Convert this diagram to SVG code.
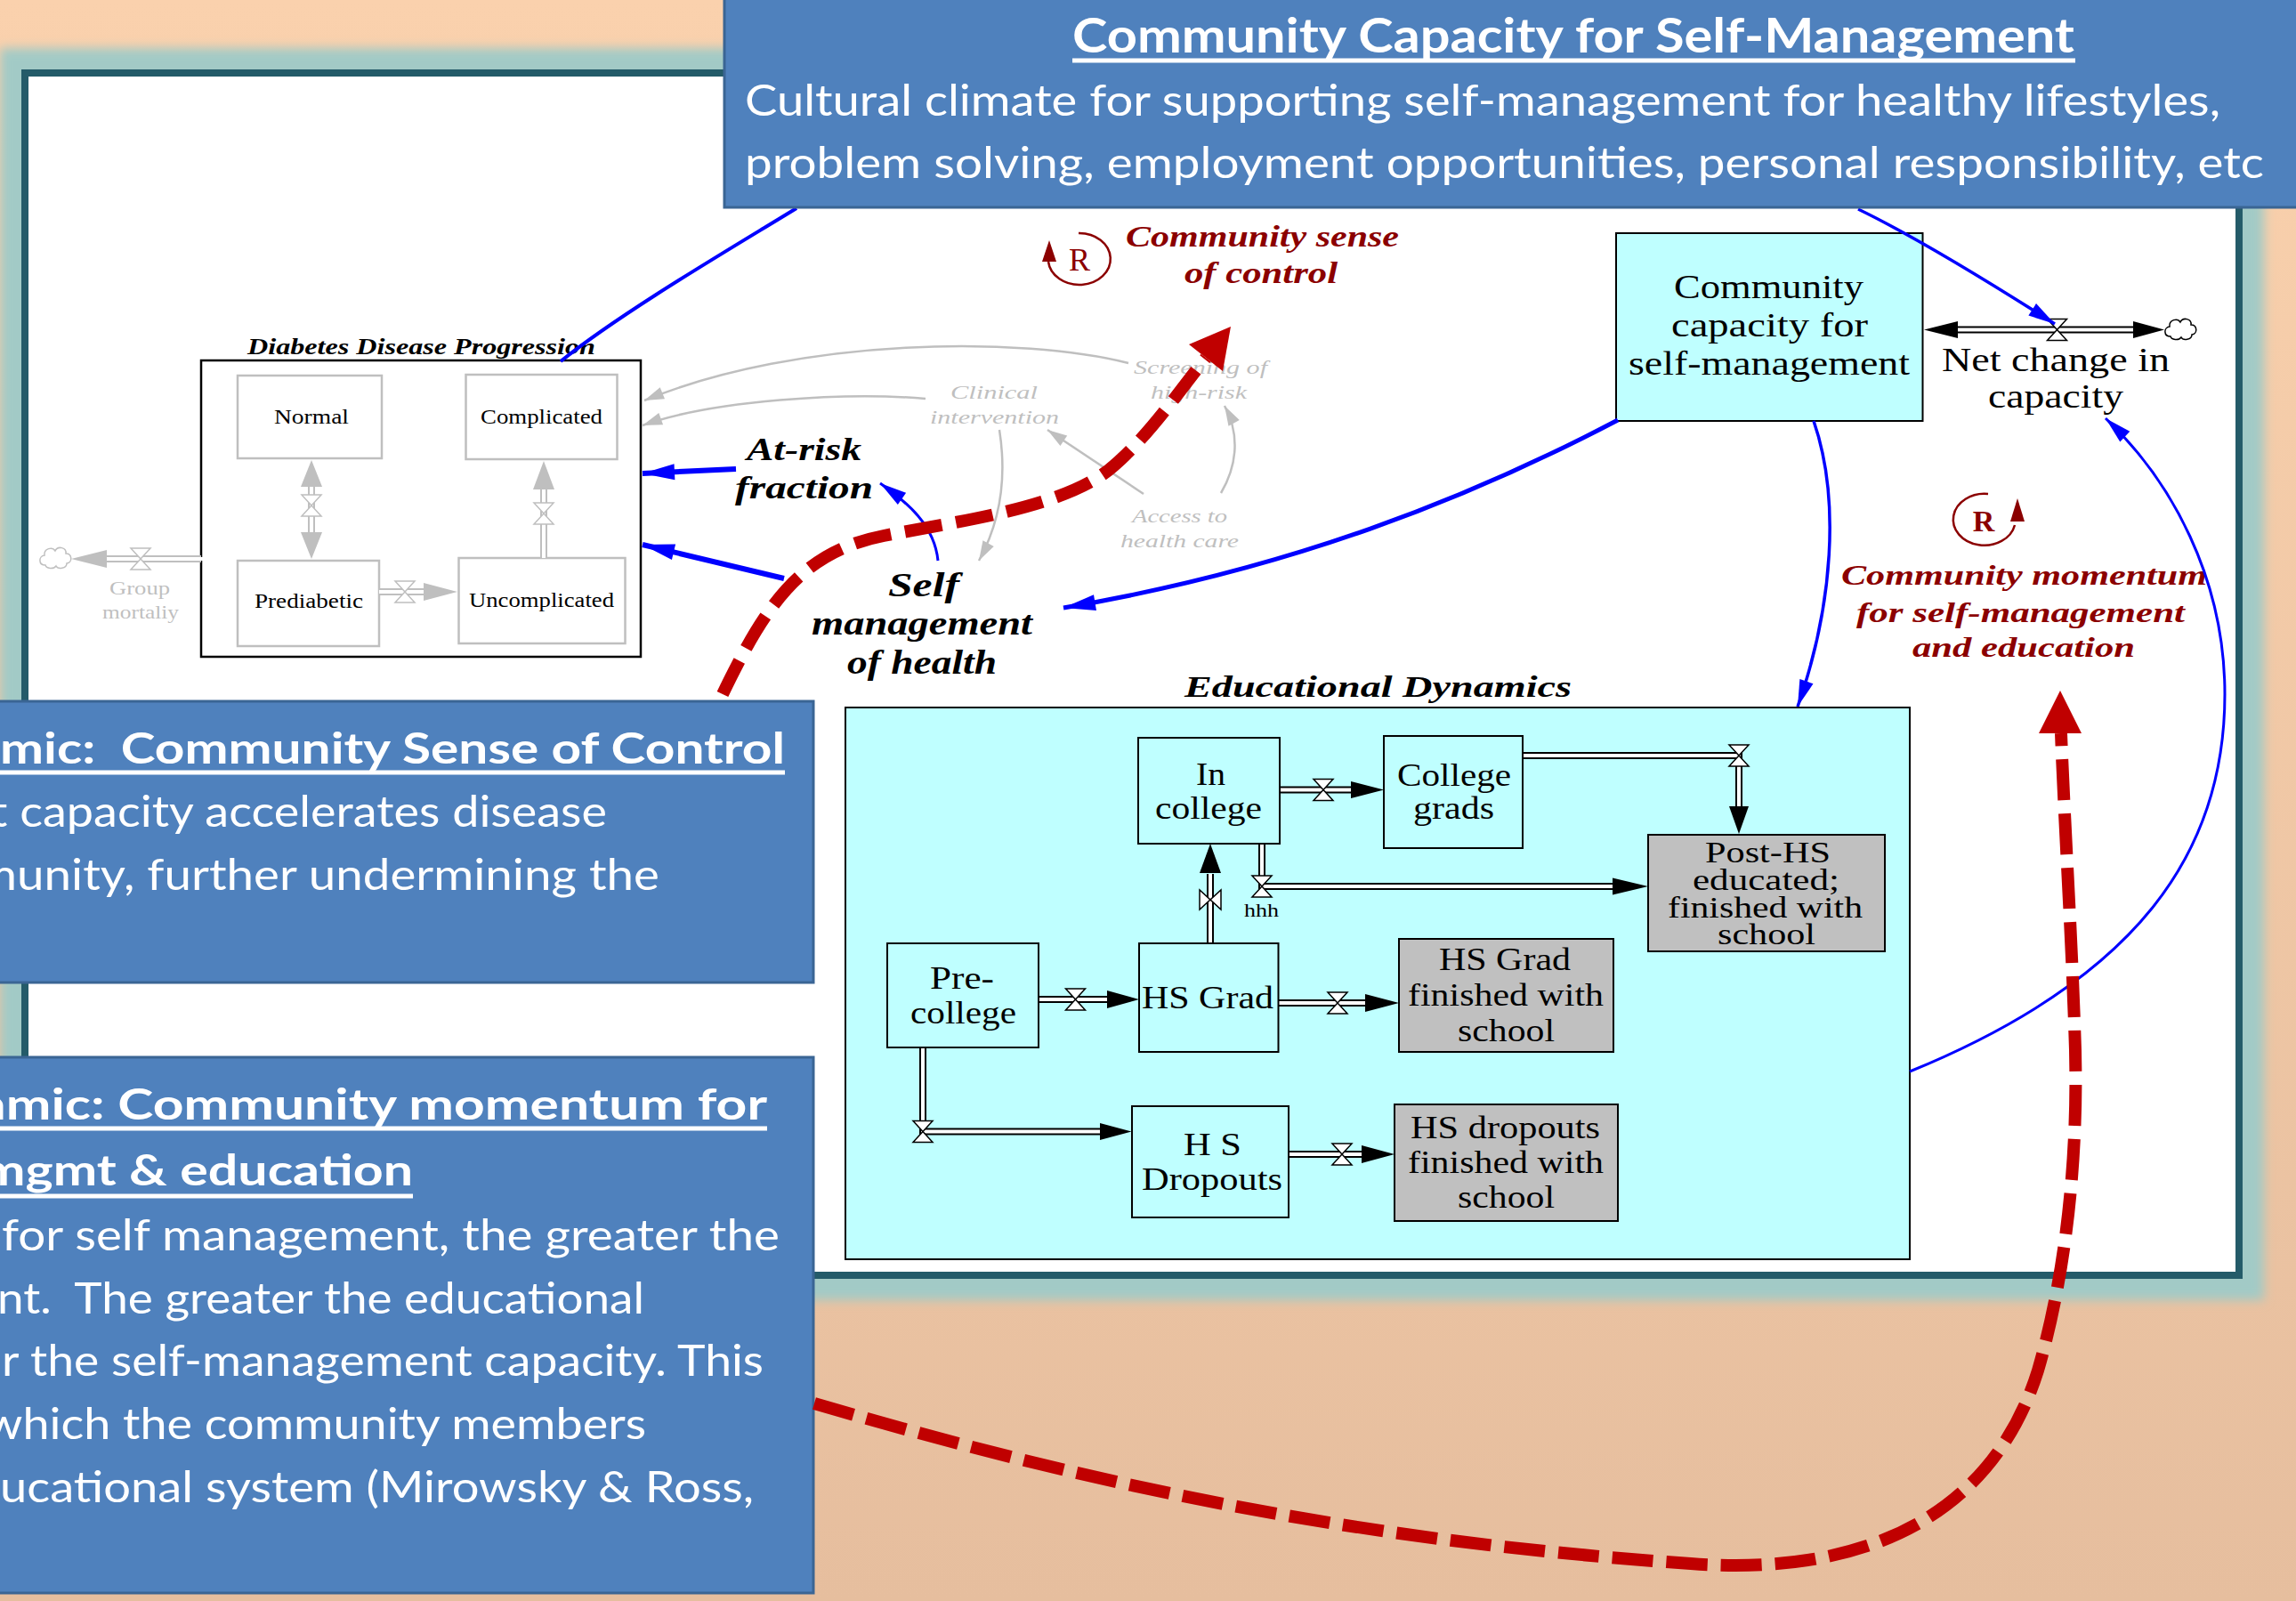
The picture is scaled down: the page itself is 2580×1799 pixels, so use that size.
<svg xmlns="http://www.w3.org/2000/svg" width="2580" height="1799" viewBox="0 0 2580 1799">
<defs>
  <linearGradient id="bg" x1="0" y1="0" x2="0" y2="1">
    <stop offset="0" stop-color="#FAD1AD"/>
    <stop offset="1" stop-color="#E6BE9E"/>
  </linearGradient>
  <filter id="soft" x="-10%" y="-10%" width="120%" height="120%">
    <feGaussianBlur stdDeviation="6"/>
  </filter>
  <marker id="ab" markerUnits="userSpaceOnUse" markerWidth="32" markerHeight="18" refX="30" refY="8" orient="auto" overflow="visible">
    <path d="M0,0 L30,8 L0,16 z" fill="#0000FF"/>
  </marker>
  <marker id="abL" markerUnits="userSpaceOnUse" markerWidth="38" markerHeight="20" refX="36" refY="9" orient="auto" overflow="visible">
    <path d="M0,0 L36,9 L0,18 z" fill="#0000FF"/>
  </marker>
  <marker id="ag" markerUnits="userSpaceOnUse" markerWidth="24" markerHeight="16" refX="22" refY="7" orient="auto" overflow="visible">
    <path d="M0,0 L22,7 L0,14 z" fill="#BFBFBF"/>
  </marker>
  <path id="valve" d="M-11,-12 L11,-12 L-11,12 L11,12 Z"/>
  <path id="cloud" d="M-12,8 C-20,8 -20,-2 -13,-3 C-14,-11 -4,-13 -1,-8 C2,-14 12,-12 11,-5 C18,-5 19,5 12,6 C12,12 2,13 0,9 C-3,13 -11,12 -12,8 Z"/>
  <style>
    .note rect { fill: #4F81BD; stroke: #3A6594; stroke-width: 3; }
    .nt { font-family: Lato, "Liberation Sans", sans-serif; fill: #FFFFFF; }
    .nh { font-weight: 700; font-size: 47px; }
    .nb { font-size: 49px; }
    .ul { stroke: #FFFFFF; stroke-width: 5; }
    .tnr { font-family: "Liberation Serif", "Times New Roman", serif; }
    .bi { font-weight: 700; font-style: italic; }
    .it { font-style: italic; }
    .gbox { fill: #FFFFFF; stroke: #BFBFBF; stroke-width: 2.5; }
    .stock { fill: #BFFFFF; stroke: #000000; stroke-width: 2; }
    .done { fill: #C0C0C0; stroke: #000000; stroke-width: 2; }
    .po { fill: none; stroke: #000000; stroke-width: 8; }
    .pi { fill: none; stroke: #FFFFFF; stroke-width: 4; }
    .gpo { fill: none; stroke: #BFBFBF; stroke-width: 8; }
    .valve { fill: #FFFFFF; stroke: #000000; stroke-width: 1.5; }
    .gvalve { fill: #FFFFFF; stroke: #BFBFBF; stroke-width: 1.5; }
    .gline { fill: none; stroke: #BFBFBF; stroke-width: 2.5; }
    .blue { fill: none; stroke: #0000FF; }
    .rd { fill: none; stroke: #C00000; stroke-width: 14; }
    .loop { fill: none; stroke: #8B0000; stroke-width: 2.5; }
    .lbl { font-size: 35px; fill: #000000; }
    .glbl { font-size: 22px; fill: #BFBFBF; }
    .red { fill: #8B0000; }
  </style>
</defs>

<!-- backdrop -->
<rect x="0" y="0" width="2580" height="1799" fill="url(#bg)"/>
<rect x="28" y="82" width="2488" height="1351" fill="none" stroke="#A2CAC6" stroke-width="56" filter="url(#soft)"/>
<rect id="panel" x="28" y="82" width="2488" height="1351" fill="#FFFFFF" stroke="#245B69" stroke-width="8"/>

<!-- Diabetes disease progression sector -->
<g id="diabetes-progression">
  <text class="tnr bi" x="278" y="398" font-size="25" textLength="391" lengthAdjust="spacingAndGlyphs">Diabetes Disease Progression</text>
  <rect x="226" y="405" width="494" height="333" fill="#FFFFFF" stroke="#000000" stroke-width="2.5"/>
  <g id="stock-normal">
    <rect class="gbox" x="267" y="422" width="162" height="93"/>
    <text class="tnr" x="308" y="476" font-size="24" textLength="84" lengthAdjust="spacingAndGlyphs">Normal</text>
  </g>
  <g id="stock-complicated">
    <rect class="gbox" x="523.5" y="421" width="170" height="95"/>
    <text class="tnr" x="540" y="476" font-size="24" textLength="137" lengthAdjust="spacingAndGlyphs">Complicated</text>
  </g>
  <g id="stock-prediabetic">
    <rect class="gbox" x="267" y="630" width="159" height="96"/>
    <text class="tnr" x="286" y="683" font-size="24" textLength="122" lengthAdjust="spacingAndGlyphs">Prediabetic</text>
  </g>
  <g id="stock-uncomplicated">
    <rect class="gbox" x="515.5" y="627" width="187" height="96"/>
    <text class="tnr" x="527" y="682" font-size="24" textLength="163" lengthAdjust="spacingAndGlyphs">Uncomplicated</text>
  </g>
  <!-- gray flows between disease states -->
  <g id="flow-onset">
    <path class="gpo" d="M350,545 V600"/><path class="pi" d="M350,545 V600"/>
    <polygon points="338,547 350,517 362,547" fill="#BFBFBF"/>
    <polygon points="338,598 350,628 362,598" fill="#BFBFBF"/>
    <use href="#valve" class="gvalve" x="350" y="568"/>
  </g>
  <g id="flow-complication">
    <path class="gpo" d="M611,627 V548"/><path class="pi" d="M611,627 V548"/>
    <polygon points="599,550 611,518 623,550" fill="#BFBFBF"/>
    <use href="#valve" class="gvalve" x="611" y="577"/>
  </g>
  <g id="flow-diagnosis">
    <path class="gpo" d="M426,665 H478"/><path class="pi" d="M426,665 H478"/>
    <polygon points="476,655 514,665 476,675" fill="#BFBFBF"/>
    <use href="#valve" class="gvalve" x="455" y="665"/>
  </g>
  <g id="flow-mortality">
    <path class="gpo" d="M226,628 H118"/><path class="pi" d="M228,628 H118"/>
    <polygon points="120,618 80,628 120,638" fill="#BFBFBF"/>
    <use href="#valve" class="gvalve" x="158" y="628"/>
    <use href="#cloud" x="63" y="627" fill="#FFFFFF" stroke="#BFBFBF" stroke-width="1.5"/>
    <text class="tnr glbl" x="123" y="668" textLength="68" lengthAdjust="spacingAndGlyphs">Group</text>
    <text class="tnr glbl" x="115" y="695" textLength="86" lengthAdjust="spacingAndGlyphs">mortaliy</text>
  </g>
</g>

<!-- gray auxiliary variables -->
<g id="var-clinical-intervention">
  <text class="tnr it glbl" x="1068" y="448" textLength="98" lengthAdjust="spacingAndGlyphs">Clinical</text>
  <text class="tnr it glbl" x="1045" y="476" textLength="145" lengthAdjust="spacingAndGlyphs">intervention</text>
</g>
<g id="var-screening">
  <text class="tnr it glbl" x="1274" y="420" textLength="150" lengthAdjust="spacingAndGlyphs">Screening of</text>
  <text class="tnr it glbl" x="1293" y="448" textLength="108" lengthAdjust="spacingAndGlyphs">high-risk</text>
</g>
<g id="var-access">
  <text class="tnr it glbl" x="1272" y="587" textLength="107" lengthAdjust="spacingAndGlyphs">Access to</text>
  <text class="tnr it glbl" x="1259" y="615" textLength="133" lengthAdjust="spacingAndGlyphs">health care</text>
</g>

<!-- key variables -->
<g id="var-at-risk">
  <text class="tnr bi" x="839" y="517" font-size="35" textLength="129" lengthAdjust="spacingAndGlyphs">At-risk</text>
  <text class="tnr bi" x="826" y="560" font-size="35" textLength="155" lengthAdjust="spacingAndGlyphs">fraction</text>
</g>
<g id="var-self-management">
  <text class="tnr bi" x="998" y="670" font-size="37" textLength="80" lengthAdjust="spacingAndGlyphs">Self</text>
  <text class="tnr bi" x="912" y="713" font-size="37" textLength="248" lengthAdjust="spacingAndGlyphs">management</text>
  <text class="tnr bi" x="952" y="757" font-size="37" textLength="168" lengthAdjust="spacingAndGlyphs">of health</text>
</g>

<!-- loop markers -->
<g id="loop-sense-of-control">
  <path class="loop" d="M1178,294 A35,29 0 1 0 1212,262"/>
  <polygon class="red" points="1179,270 1171,294 1187,294"/>
  <text class="tnr red" x="1213" y="304" font-size="36" text-anchor="middle">R</text>
  <text class="tnr bi red" x="1265" y="277" font-size="33" textLength="307" lengthAdjust="spacingAndGlyphs">Community sense</text>
  <text class="tnr bi red" x="1331" y="318" font-size="33" textLength="172" lengthAdjust="spacingAndGlyphs">of control</text>
</g>
<g id="loop-momentum">
  <path class="loop" d="M2234,555 A35,29 0 1 0 2264,590"/>
  <polygon class="red" points="2267,560 2259,586 2275,586"/>
  <text class="tnr red" x="2229" y="597" font-size="34" font-weight="700" text-anchor="middle">R</text>
  <text class="tnr bi red" x="2069" y="657" font-size="32" textLength="411" lengthAdjust="spacingAndGlyphs">Community momentum</text>
  <text class="tnr bi red" x="2086" y="699" font-size="32" textLength="369" lengthAdjust="spacingAndGlyphs">for self-management</text>
  <text class="tnr bi red" x="2149" y="738" font-size="32" textLength="250" lengthAdjust="spacingAndGlyphs">and education</text>
</g>

<!-- community capacity stock and its net flow -->
<g id="stock-community-capacity">
  <rect class="stock" x="1816" y="262" width="344.5" height="211"/>
  <text class="tnr" x="1881" y="335" font-size="38" textLength="213" lengthAdjust="spacingAndGlyphs">Community</text>
  <text class="tnr" x="1878" y="378" font-size="38" textLength="221" lengthAdjust="spacingAndGlyphs">capacity for</text>
  <text class="tnr" x="1830" y="421" font-size="38" textLength="316" lengthAdjust="spacingAndGlyphs">self-management</text>
</g>
<g id="flow-net-change">
  <path class="po" d="M2198,370.5 H2400"/><path class="pi" d="M2196,370.5 H2402"/>
  <polygon points="2200,361 2162,370.5 2200,380" fill="#000000"/>
  <polygon points="2397,361 2432,370.5 2397,380" fill="#000000"/>
  <use href="#valve" class="valve" x="2311.5" y="370.5"/>
  <use href="#cloud" x="2451" y="370" fill="#FFFFFF" stroke="#000000" stroke-width="1.5"/>
  <text class="tnr" x="2182" y="417" font-size="38" textLength="256" lengthAdjust="spacingAndGlyphs">Net change in</text>
  <text class="tnr" x="2234" y="458" font-size="38" textLength="152" lengthAdjust="spacingAndGlyphs">capacity</text>
</g>

<!-- Educational dynamics sector -->
<g id="educational-dynamics">
  <text class="tnr bi" x="1331" y="783" font-size="33" textLength="435" lengthAdjust="spacingAndGlyphs">Educational Dynamics</text>
  <rect x="950" y="795" width="1196" height="620" fill="#BFFFFF" stroke="#000000" stroke-width="2"/>

  <g id="edu-flows">
    <path class="po" d="M1438,887.5 H1520"/><path class="pi" d="M1436,887.5 H1520"/>
    <polygon points="1518,878 1555,887.5 1518,897"/>
    <use href="#valve" class="valve" x="1487" y="887.5"/>

    <path class="po" d="M1711,849 H1954 V908"/><path class="pi" d="M1709,849 H1954 V908"/>
    <polygon points="1943,906 1954,937 1965,906"/>
    <use href="#valve" class="valve" x="1954" y="849"/>

    <path class="po" d="M1418,948 V996 H1815"/><path class="pi" d="M1418,946 V996 H1815"/>
    <polygon points="1812,986.5 1852,996 1812,1005.5"/>
    <use href="#valve" class="valve" x="1418" y="996"/>
    <text class="tnr" x="1398" y="1030" font-size="20" textLength="39" lengthAdjust="spacingAndGlyphs">hhh</text>

    <path class="po" d="M1360,1060 V982"/><path class="pi" d="M1360,1062 V982"/>
    <polygon points="1348,981 1360,948 1372,981"/>
    <use href="#valve" class="valve" transform="translate(1360,1011) rotate(90)"/>

    <path class="po" d="M1167,1123 H1246"/><path class="pi" d="M1165,1123 H1246"/>
    <polygon points="1244,1113 1280,1123 1244,1133"/>
    <use href="#valve" class="valve" x="1208.5" y="1123"/>

    <path class="po" d="M1436.5,1127 H1536"/><path class="pi" d="M1434,1127 H1536"/>
    <polygon points="1534,1117 1572,1127 1534,1137"/>
    <use href="#valve" class="valve" x="1503" y="1127"/>

    <path class="po" d="M1037,1177 V1271.5 H1238"/><path class="pi" d="M1037,1175 V1271.5 H1238"/>
    <polygon points="1236,1262 1271.5,1271.5 1236,1281"/>
    <use href="#valve" class="valve" x="1037" y="1271.5"/>

    <path class="po" d="M1448,1297 H1532"/><path class="pi" d="M1446,1297 H1532"/>
    <polygon points="1530,1287 1567,1297 1530,1307"/>
    <use href="#valve" class="valve" x="1508" y="1297"/>
  </g>

  <g id="stock-in-college">
    <rect class="stock" x="1279" y="829" width="159" height="119"/>
    <text class="tnr lbl" x="1344" y="882" textLength="33" lengthAdjust="spacingAndGlyphs">In</text>
    <text class="tnr lbl" x="1298" y="920" textLength="120" lengthAdjust="spacingAndGlyphs">college</text>
  </g>
  <g id="stock-college-grads">
    <rect class="stock" x="1555" y="827" width="156" height="126"/>
    <text class="tnr lbl" x="1570" y="883" textLength="128" lengthAdjust="spacingAndGlyphs">College</text>
    <text class="tnr lbl" x="1588" y="920" textLength="91" lengthAdjust="spacingAndGlyphs">grads</text>
  </g>
  <g id="stock-post-hs">
    <rect class="done" x="1852" y="938" width="266" height="131"/>
    <text class="tnr" x="1916" y="969" font-size="33" textLength="141" lengthAdjust="spacingAndGlyphs">Post-HS</text>
    <text class="tnr" x="1902" y="1000" font-size="33" textLength="165" lengthAdjust="spacingAndGlyphs">educated;</text>
    <text class="tnr" x="1874" y="1031" font-size="33" textLength="219" lengthAdjust="spacingAndGlyphs">finished with</text>
    <text class="tnr" x="1930" y="1061" font-size="33" textLength="110" lengthAdjust="spacingAndGlyphs">school</text>
  </g>
  <g id="stock-pre-college">
    <rect class="stock" x="997" y="1060" width="170" height="117"/>
    <text class="tnr lbl" x="1045" y="1111" textLength="72" lengthAdjust="spacingAndGlyphs">Pre-</text>
    <text class="tnr lbl" x="1023" y="1150" textLength="119" lengthAdjust="spacingAndGlyphs">college</text>
  </g>
  <g id="stock-hs-grad">
    <rect class="stock" x="1280" y="1060" width="156.5" height="122"/>
    <text class="tnr lbl" x="1283" y="1133" textLength="148" lengthAdjust="spacingAndGlyphs">HS Grad</text>
  </g>
  <g id="stock-hs-grad-finished">
    <rect class="done" x="1572" y="1055" width="241" height="127"/>
    <text class="tnr lbl" x="1617" y="1090" textLength="148" lengthAdjust="spacingAndGlyphs">HS Grad</text>
    <text class="tnr lbl" x="1582" y="1130" textLength="220" lengthAdjust="spacingAndGlyphs">finished with</text>
    <text class="tnr lbl" x="1638" y="1170" textLength="109" lengthAdjust="spacingAndGlyphs">school</text>
  </g>
  <g id="stock-hs-dropouts">
    <rect class="stock" x="1272" y="1243" width="176" height="125"/>
    <text class="tnr lbl" x="1330" y="1298" textLength="65" lengthAdjust="spacingAndGlyphs">H S</text>
    <text class="tnr lbl" x="1283" y="1337" textLength="158" lengthAdjust="spacingAndGlyphs">Dropouts</text>
  </g>
  <g id="stock-hs-dropouts-finished">
    <rect class="done" x="1567" y="1241" width="251" height="131"/>
    <text class="tnr lbl" x="1585" y="1279" textLength="213" lengthAdjust="spacingAndGlyphs">HS dropouts</text>
    <text class="tnr lbl" x="1582" y="1318" textLength="220" lengthAdjust="spacingAndGlyphs">finished with</text>
    <text class="tnr lbl" x="1638" y="1357" textLength="109" lengthAdjust="spacingAndGlyphs">school</text>
  </g>
</g>

<!-- causal links -->
<g id="connectors">
  <path class="gline" d="M1268,408 C1150,378 900,378 724,450" marker-end="url(#ag)"/>
  <path class="gline" d="M1040,448 C950,440 800,450 722,478" marker-end="url(#ag)"/>
  <path class="gline" d="M1123,483 C1132,540 1122,590 1100,630" marker-end="url(#ag)"/>
  <path class="gline" d="M1285,555 L1177,483" marker-end="url(#ag)"/>
  <path class="gline" d="M1372,554 C1392,520 1392,485 1376,456" marker-end="url(#ag)"/>

  <path class="blue" stroke-width="4" d="M895,234 C820,280 700,350 630,406"/>
  <path class="blue" stroke-width="3.5" d="M2088,235 C2150,265 2240,320 2309,364" marker-end="url(#ab)"/>
  <path class="blue" stroke-width="6" d="M827,527 L722,532" marker-end="url(#abL)"/>
  <path class="blue" stroke-width="6" d="M881,650 L722,612" marker-end="url(#abL)"/>
  <path class="blue" stroke-width="3" d="M1054,630 C1050,590 1020,565 989,543" marker-end="url(#ab)"/>
  <path class="blue" stroke-width="5" d="M1818,472 C1650,560 1450,640 1195,683" marker-end="url(#abL)"/>
  <path class="blue" stroke-width="3.5" d="M2038,473 C2068,560 2060,680 2020,794" marker-end="url(#ab)"/>
  <path class="blue" stroke-width="3" d="M2146,1204 C2400,1100 2500,960 2500,780 C2500,650 2440,540 2366,470" marker-end="url(#ab)"/>

  <!-- reinforcing loop paths -->
  <path class="rd" stroke-dasharray="42 16" d="M812,780 C860,680 900,620 993,602 C1080,585 1200,570 1252,523 C1290,490 1325,440 1355,402"/>
  <polygon points="1383,367 1336,387 1374,417" fill="#C00000"/>
</g>

<!-- explanatory notes -->
<g id="note-community-capacity" class="note">
  <rect x="814" y="-5" width="1780" height="238"/>
  <text class="nt nh" x="1205" y="59" style="font-size:54px" textLength="1126" lengthAdjust="spacingAndGlyphs">Community Capacity for Self-Management</text>
  <line class="ul" x1="1205" y1="68" x2="2332" y2="68"/>
  <text class="nt nb" x="837" y="130" textLength="1658" lengthAdjust="spacingAndGlyphs">Cultural climate for supporting self-management for healthy lifestyles,</text>
  <text class="nt nb" x="837" y="200" textLength="1707" lengthAdjust="spacingAndGlyphs">problem solving, employment opportunities, personal responsibility, etc</text>
</g>
<g id="note-sense-of-control" class="note">
  <rect x="-5" y="788" width="919" height="316"/>
  <text class="nt nh" x="0" y="858" xml:space="preserve" textLength="882" lengthAdjust="spacingAndGlyphs">mic:  Community Sense of Control</text>
  <line class="ul" x1="0" y1="868" x2="882" y2="868"/>
  <text class="nt nb" x="-11" y="929" textLength="693" lengthAdjust="spacingAndGlyphs">t capacity accelerates disease</text>
  <text class="nt nb" x="-26" y="1000" textLength="767" lengthAdjust="spacingAndGlyphs">munity, further undermining the</text>
</g>
<g id="note-momentum" class="note">
  <rect x="-5" y="1188" width="919" height="602"/>
  <text class="nt nh" x="-24" y="1258" textLength="886" lengthAdjust="spacingAndGlyphs">amic: Community momentum for</text>
  <line class="ul" x1="0" y1="1268" x2="862" y2="1268"/>
  <text class="nt nh" x="-21" y="1332" textLength="485" lengthAdjust="spacingAndGlyphs">mgmt &amp; education</text>
  <line class="ul" x1="0" y1="1344" x2="464" y2="1344"/>
  <text class="nt nb" x="2" y="1405" textLength="874" lengthAdjust="spacingAndGlyphs">for self management, the greater the</text>
  <text class="nt nb" x="-3" y="1476" xml:space="preserve" textLength="727" lengthAdjust="spacingAndGlyphs">nt.  The greater the educational</text>
  <text class="nt nb" x="2" y="1546" textLength="856" lengthAdjust="spacingAndGlyphs">r the self-management capacity. This</text>
  <text class="nt nb" x="-17" y="1617" textLength="743" lengthAdjust="spacingAndGlyphs">which the community members</text>
  <text class="nt nb" x="0" y="1688" textLength="847" lengthAdjust="spacingAndGlyphs">ucational system (Mirowsky &amp; Ross,</text>
</g>

<!-- momentum loop path from the note up to the loop label -->
<g id="connector-momentum">
  <path class="rd" stroke-dasharray="46 15" d="M915,1577 C1200,1660 1500,1730 1900,1757 C2100,1772 2240,1700 2290,1540 C2322,1430 2335,1300 2332,1180 C2328,1050 2320,930 2316,824"/>
  <polygon points="2315,776 2291,824 2339,824" fill="#C00000"/>
</g>
</svg>
